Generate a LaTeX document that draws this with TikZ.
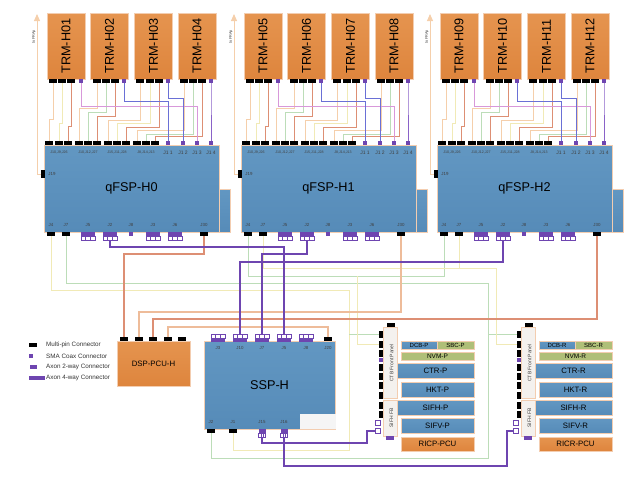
\documentclass[tikz,border=0pt]{standalone}
\usepackage{fontspec}
\setmainfont{Liberation Sans}
\usetikzlibrary{arrows.meta,positioning,calc}
\definecolor{bl}{HTML}{6297C2}
\definecolor{bd}{HTML}{568BB8}
\definecolor{or}{HTML}{E5944F}
\definecolor{od}{HTML}{DE853D}
\definecolor{ed}{HTML}{F3CDB0}
\definecolor{ol}{HTML}{AFBF78}
\definecolor{pu}{HTML}{6E45B0}
\definecolor{wor}{HTML}{F5CFAB}
\definecolor{wgr}{HTML}{BCDDB8}
\definecolor{wre}{HTML}{DD8F74}
\definecolor{wye}{HTML}{F1EAB6}
\definecolor{wpi}{HTML}{D898DA}
\definecolor{wbl}{HTML}{6A70D6}
\definecolor{wpu}{HTML}{8A62C8}
\definecolor{fr}{HTML}{F4F1EE}
\newcommand{\fs}[1]{\fontsize{#1}{#1}\selectfont}
% purple multi-way port: name, x, y, width, side of the cells (+4 below, -4 above)
\newcommand{\axonport}[5]{%
  \node[ax,minimum width=#4pt](#1) at (#2,#3){};
  \foreach \o in {-1,0,1}
    \draw[cell] ($(#1)+(\o*#4/3-#4/6,#5*0.5)$) rectangle +(#4/3,#5);
}
\begin{document}
\begin{tikzpicture}[x=1pt,y=-1pt,
  trm/.style={rotate=90,draw=ed,top color=or,bottom color=od,minimum width=66pt,minimum height=38pt,inner sep=0pt,font=\fs{12.7}},
  fsp/.style={draw=ed,top color=bl,bottom color=bd,inner sep=0pt,font=\fs{12.7}},
  brd/.style={draw=ed,top color=bl,bottom color=bd,inner sep=0pt,font=\fs{7.8}},
  nvm/.style={draw=ed,fill=ol,inner sep=0pt,font=\fs{6.5}},
  org/.style={draw=ed,top color=or,bottom color=od,inner sep=0pt,font=\fs{7.8}},
  pnl/.style={draw=ed,fill=fr,inner sep=0pt},
  mp/.style={fill=black,minimum width=8pt,minimum height=4pt,inner sep=0pt},
  mpv/.style={fill=black,minimum width=4pt,minimum height=8pt,inner sep=0pt},
  sma/.style={fill=pu,minimum width=4.5pt,minimum height=4.5pt,inner sep=0pt},
  ax/.style={fill=pu,minimum height=4pt,inner sep=0pt},
  cell/.style={draw=pu,fill=white,line width=.5pt},
  pin/.style={inner sep=0pt,font=\fs{4.4},text=black!75},
  leg/.style={inner sep=0pt,anchor=west,font=\fs{6.3},text=black!80},
  w/.style={line width=.9pt},
  wr/.style={line width=1.2pt},
  pw/.style={preaction={draw=wpi!60,line width=2.8pt},draw=pu,line width=1.4pt}]
\useasboundingbox (0,0) rectangle (642,496);
% the three qFSP carriers with their four TRM boards
\foreach \g/\dx/\ta/\tb/\tc/\td in {0/0/01/02/03/04,1/197/05/06/07/08,2/393/09/10/11/12}{
\begin{scope}[shift={(\dx,0)},name prefix=h\g]
\node[fsp,minimum width=11pt,minimum height=43pt](ext) at (224.5,210.5){};
\node[fsp,minimum width=175pt,minimum height=87pt](fsp) at (131.5,188.5){qFSP-H\g};
\node[trm](trm1) at (66,46){TRM-H\ta};
\node[trm](trm2) at (109.5,46){TRM-H\tb};
\node[trm](trm3) at (153.5,46){TRM-H\tc};
\node[trm](trm4) at (197,46){TRM-H\td};
\foreach \n/\x in {a1/53,b1/62,c1/71,a2/97,b2/106,c2/115,a3/140,b3/150,c3/159,a4/184,b4/193,c4/202}
  \node[mp](\n) at (\x,81){};
\foreach \n/\x in {p1/81,p2/124,p3/168,p4/211}
  \node[sma](\n) at (\x,81){};
\foreach \n/\x in {f1/49,f2/59,f3/68,f4/79,f5/88,f6/97,f7/108,f8/117,f9/126,f10/137,f11/146,f12/155}
  \node[mp](\n) at (\x,143){};
\foreach \n/\x in {j1/168,j2/183,j3/197,j4/211}
  \node[sma](\n) at (\x,143){};
\foreach \n/\x/\t in {l1/59/{J10,J9,J26},l2/88/{J10,J12,J27},l3/117/{J15,J11,J28},l4/146/{J8,J14,J13}}
  \node[pin,font=\fs{3.6}](\n) at (\x,152.5){\t};
\foreach \n/\x/\t in {l5/168/J1 1,l6/183/J1 2,l7/197/J1 3,l8/211/J1 4}
  \node[pin,font=\fs{5}](\n) at (\x,152.5){\t};
\node[mpv](J19) at (43,174){};
\node[pin,right=3pt of J19](l19){J19};
\node[mp](J4) at (51,234){};
\node[mp](J7) at (66,234){};
\node[sma](J8) at (131,234){};
\node[mp](J30) at (204,234){};
\axonport{J5}{88}{234}{14}{4}
\axonport{J2}{110}{234}{14}{4}
\axonport{J3}{153}{234}{14}{4}
\axonport{J6}{175}{234}{14}{4}
\foreach \n/\x/\t in {l10/51/J4,l11/66/J7,l12/88/J5,l13/110/J2,l14/131/J8,l15/153/J3,l16/175/J6,l17/204/J30}
  \node[pin](\n) at (\x,225){\t};
% board to carrier wiring
\foreach \i/\j/\k/\c in {a1/f1/119/wor,b1/f2/123/wye,c1/f3/126/wre,a2/f4/108/wor,b2/f5/112/wgr,c2/f6/116/wre,
  a3/f7/120/wor,b3/f8/123/wye,c3/f9/127/wre,a4/f10/130/wor,b4/f11/134/wgr,c4/f12/136/wre,
  p1/j3/106/wpi,p2/j1/101/wbl,p3/j2/98/wbl,p4/j4/90/wpu}
  \draw[w,draw=\c](\i.south)--(\i.south|-0,\k)-|(\j.north);
\coordinate (frap) at (37,14);
\node[pin,rotate=90,font=\fs{3.8}](frl) at (34,37){to FRAp};
\draw[w,draw=wor,-{Triangle[length=7pt,width=6pt]}](J19.west)-|(frap);
\end{scope}}
% DSP and SSP
\node[org,minimum width=73pt,minimum height=45pt](dsp) at (153.5,363.5){DSP-PCU-H};
\foreach \n/\x in {d1/124,d2/139,d3/153,d4/168,d5/182}
  \node[mp](\n) at (\x,339){};
\node[fsp,minimum width=131pt,minimum height=88pt](ssp) at (269.5,385){SSP-H};
\node[fill=black!4,minimum width=36pt,minimum height=15pt,inner sep=0pt](gap) at (317.5,421.5){};
\axonport{sJ3}{218}{340}{14}{-4}
\axonport{sJ10}{240}{340}{14}{-4}
\axonport{sJ7}{262}{340}{14}{-4}
\axonport{sJ5}{284}{340}{14}{-4}
\axonport{sJ8}{306}{340}{14}{-4}
\node[mp](sJ20) at (328,339){};
\node[mp](sJ2) at (211,431){};
\node[mp](sJ1) at (233,431){};
\axonport{sJ15}{262}{431}{7}{4}
\axonport{sJ16}{284}{431}{7}{4}
\foreach \n/\x/\y/\t in {s1/218/348/J3,s2/240/348/J10,s3/262/348/J7,s4/284/348/J5,s5/306/348/J8,s6/328/348/J20,
  s7/211/422/J2,s8/233/422/J1,s9/262/422/J15,s10/284/422/J16}
  \node[pin](\n) at (\x,\y){\t};
% crate slots
\foreach \s/\dx/\q in {p/0/P,r/138/R}{
\begin{scope}[shift={(\dx,0)},name prefix=\s]
\node[pnl,minimum width=14pt,minimum height=71pt](front) at (390,362.5){};
\node[pnl,minimum width=14pt,minimum height=36pt](sif) at (390,418){};
\node[brd,font=\fs{6},minimum width=36pt,minimum height=8pt](dcb) at (419,345){DCB-\q};
\node[nvm,font=\fs{6},minimum width=37pt,minimum height=8pt](sbc) at (455.5,345){SBC-\q};
\node[nvm,minimum width=73pt,minimum height=8pt](nvm) at (437.5,356){NVM-\q};
\node[brd,minimum width=77pt,minimum height=15pt](ctr) at (435.5,370.5){CTR-\q};
\node[brd,minimum width=73pt,minimum height=15pt](hkt) at (437.5,389.5){HKT-\q};
\node[brd,minimum width=77pt,minimum height=15pt](sifh) at (435.5,407.5){SIFH-\q};
\node[brd,minimum width=73pt,minimum height=15pt](sifv) at (437.5,425.5){SIFV-\q};
\node[org,minimum width=73pt,minimum height=14pt](ric) at (437.5,444){RIC\q-PCU};
\foreach \n/\y in {c1/334,c2/344,c3/353,c4/367,c5/376,c6/385,c7/395,c8/405,c9/414}
  \node[mpv,minimum height=7pt](\n) at (381,\y){};
\node[sma,minimum width=4pt](c0) at (381,360){};
\node[mp](ct) at (391,325){};
\node[ax,minimum width=8pt](cb) at (390,438){};
\node[draw=pu,fill=white,minimum width=5pt,minimum height=4.5pt,inner sep=0pt,line width=.6pt](sa) at (378,423){};
\node[draw=pu,fill=white,minimum width=5pt,minimum height=4.5pt,inner sep=0pt,line width=.6pt](sb) at (378,431){};
\node[pin,rotate=90,font=\fs{5}](tf) at (391.5,363){CTB Front Panel};
\node[pin,rotate=90,font=\fs{5}](ts) at (391.5,418){SIFH FB};
\end{scope}}
% carrier to carrier, SSP and slot wiring
\coordinate (bh0) at (349,290);
\coordinate (bh1) at (357,276);
\coordinate (bh2) at (488,283);
\coordinate (bh3) at (496,268);
\draw[w,draw=wye](h0J4.south)|-(bh0)--(bh0|-0,450)-|(sJ1.south);
\draw[w,draw=wgr](bh0|-pc1)--(pc1.west);
\draw[w,draw=wgr](h0J7.south)|-(bh2)--(bh2|-0,458)-|(sJ2.south);
\draw[w,draw=wgr](bh2|-rc1)--(rc1.west);
\draw[w,draw=wgr](h1J4.south)|-(bh1-|h2J4)--(h2J4.south);
\draw[w,draw=wye](bh1)|-(pc2.west);
\draw[w,draw=wye](h1J7.south)|-(bh3)|-(rc2.west);
\draw[w,draw=wye](h2J7.south)--(h2J7.south|-bh3);
\draw[wr,draw=wre](h0J30.south)--(h0J30.south|-0,254)-|(d1.north);
\draw[wr,draw=wor!70!wre](h1J30.south)--(h1J30.south|-0,312)-|(d2.north);
\draw[wr,draw=wre](h2J30.south)--(h2J30.south|-0,319)-|(d3.north);
\draw[wr,draw=wor!70!wre](sJ20.north)--(sJ20.north|-0,327)-|(d4.north);
\draw[pw,shorten <=4pt,shorten >=4pt](h0J2.south)--(h0J2.south|-0,247)-|(sJ5.north);
\draw[pw,shorten <=4pt,shorten >=4pt](h1J2.south)--(h1J2.south|-0,254)-|(sJ7.north);
\draw[pw,shorten <=4pt,shorten >=4pt](h2J2.south)--(h2J2.south|-0,262)-|(sJ10.north);
\draw[pw,shorten <=4pt](sJ15.south)--(sJ15.south|-0,443)-|(367,431)--(psb.west);
\draw[pw,shorten <=4pt](sJ16.south)--(sJ16.south|-0,466)-|(507,431)--(rsb.west);
% legend
\node[mp](k1) at (33,345){};
\node[sma](k2) at (31,356){};
\node[ax,minimum width=7pt](k3) at (33,367){};
\node[ax,minimum width=16pt](k4) at (37,378){};
\node[leg](t1) at (46,345){Multi-pin Connector};
\node[leg](t2) at (46,356){SMA Coax Connector};
\node[leg](t3) at (46,367){Axon 2-way Connector};
\node[leg](t4) at (46,378){Axon 4-way Connector};
\end{tikzpicture}
\end{document}
